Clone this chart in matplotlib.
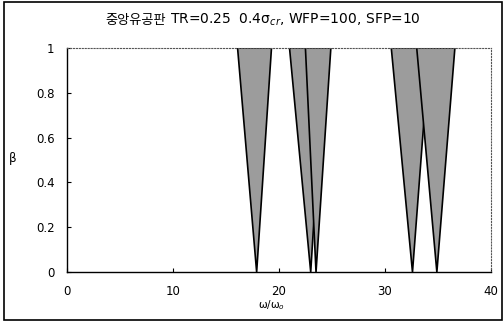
import matplotlib.pyplot as plt
from matplotlib.patches import Rectangle

plt.rcParams['font.family'] = ['DejaVu Sans', 'Noto Sans CJK KR']

# instability regions: tip at beta=0, left/right edge at beta=1
tips = [17.9, 23.0, 23.5, 32.6, 34.9]
left_top = [16.1, 21.0, 22.5, 30.6, 33.0]
right_top = [19.3, 24.3, 24.9, 34.2, 36.6]

xticks = [0, 10, 20, 30, 40]
yticks = [0, 0.2, 0.4, 0.6, 0.8, 1]
ytick_labels = ['0', '0.2', '0.4', '0.6', '0.8', '1']

fig = plt.figure(figsize=(5.03, 3.24), dpi=100)
ax = fig.add_axes([0.133, 0.160, 0.843, 0.692])

for t, l, r in zip(tips, left_top, right_top):
    ax.fill([l, t, r], [1, 0, 1], facecolor='#9c9c9c', edgecolor='black', linewidth=1.2)

ax.set_xlim(0, 40)
ax.set_ylim(0, 1)
ax.set_xticks(xticks)
ax.set_xticklabels([str(v) for v in xticks])
ax.set_yticks(yticks)
ax.set_yticklabels(ytick_labels)
ax.tick_params(direction='in', length=3, labelsize=8.5, width=0.8)
ax.tick_params(axis='x', pad=9)
ax.tick_params(axis='y', pad=9)

ax.spines['top'].set_linestyle(':')
ax.spines['right'].set_linestyle(':')
ax.spines['top'].set_color('#555555')
ax.spines['right'].set_color('#555555')
for s in ['left', 'bottom']:
    ax.spines[s].set_linewidth(1.0)

# title: Korean part and formula part side by side
fig.text(0.330, 0.938, '중앙유공판', ha='right', va='center', fontsize=9.5,
         family='Noto Sans CJK KR')
fig.text(0.338, 0.938, 'TR=0.25  0.4σ$_{cr}$, WFP=100, SFP=10',
         ha='left', va='center', fontsize=10)
fig.text(0.026, 0.512, 'β', ha='center', va='center', fontsize=8.5)
fig.text(0.54, 0.059, 'ω/ω$_{o}$', ha='center', va='center', fontsize=7.5)

fig.patches.append(Rectangle((0.008, 0.012), 0.99, 0.982, transform=fig.transFigure,
                             fill=False, edgecolor='black', linewidth=1.2))

fig.savefig('out.png', dpi=100)
